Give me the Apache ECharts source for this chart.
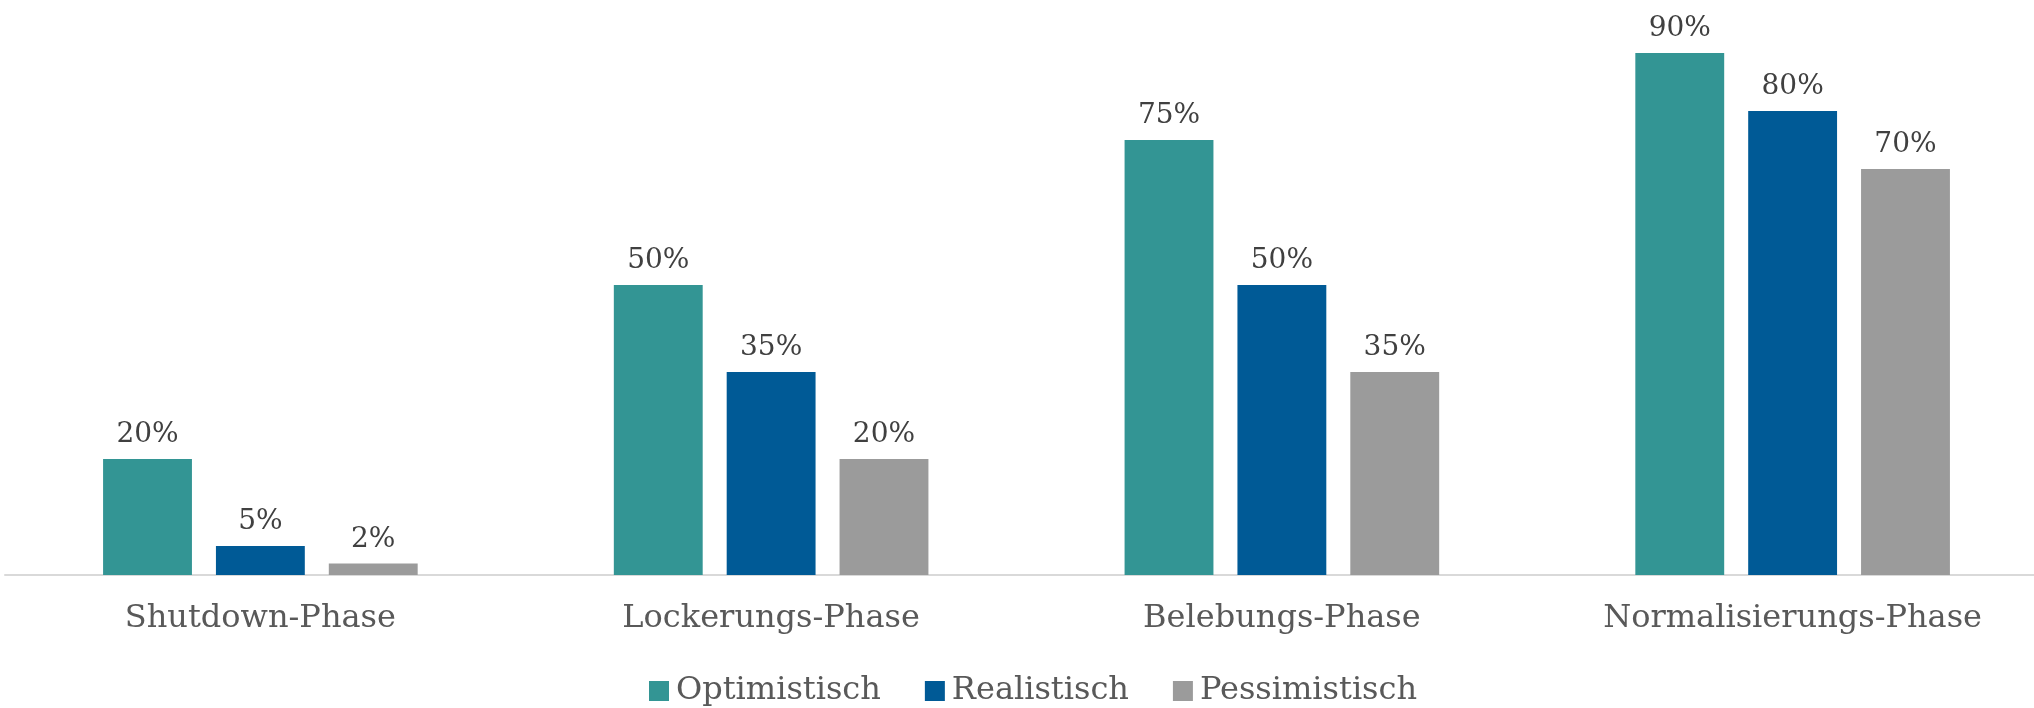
<!DOCTYPE html>
<html><head><meta charset="utf-8">
<script src="https://cdn.jsdelivr.net/npm/echarts@6/dist/echarts.min.js"></script>
<style>html,body{margin:0;padding:0;background:#fff;overflow:hidden}#c{width:2048px;height:708px}</style>
</head><body><div id="c"></div>
<script>
const categories = ['Shutdown-Phase', 'Lockerungs-Phase', 'Belebungs-Phase', 'Normalisierungs-Phase'];
const seriesNames = ['Optimistisch', 'Realistisch', 'Pessimistisch'];
const optimistisch = [20, 50, 75, 90];
const realistisch = [5, 35, 50, 80];
const pessimistisch = [2, 20, 35, 70];
const colors = ['#339594', '#005A96', '#9B9B9B'];
const values = [optimistisch, realistisch, pessimistisch];
const FONT = 'DejaVu Serif';

const chart = echarts.init(document.getElementById('c'), null, {renderer: 'canvas'});
chart.setOption({
  animation: false,
  backgroundColor: '#ffffff',
  grid: {left: 5, right: 0, top: -5, bottom: 133, containLabel: false, outerBoundsMode: 'none'},
  legend: {
    data: seriesNames, left: 649, top: 675, padding: 0, itemWidth: 20, itemHeight: 20, itemGap: 44,
    icon: 'rect',
    textStyle: {fontFamily: FONT, fontSize: 32, color: '#595959', padding: [0, 0, 0, 2]}
  },
  xAxis: {
    type: 'category', data: categories,
    axisLine: {lineStyle: {color: '#D9D9D9', width: 2}},
    axisTick: {show: false},
    axisLabel: {fontFamily: FONT, fontSize: 32, color: '#595959', margin: 28}
  },
  yAxis: {type: 'value', min: 0, max: 100, show: false, splitLine: {show: false}},
  series: values.map((v, i) => ({
    name: seriesNames[i], type: 'bar', data: v,
    barWidth: '17.4%', barGap: '27%',
    itemStyle: {color: colors[i]},
    label: {show: true, position: 'top', distance: 10, formatter: '{c}%',
      fontFamily: FONT, fontSize: 28, color: '#404040'}
  }))
});
</script></body></html>
